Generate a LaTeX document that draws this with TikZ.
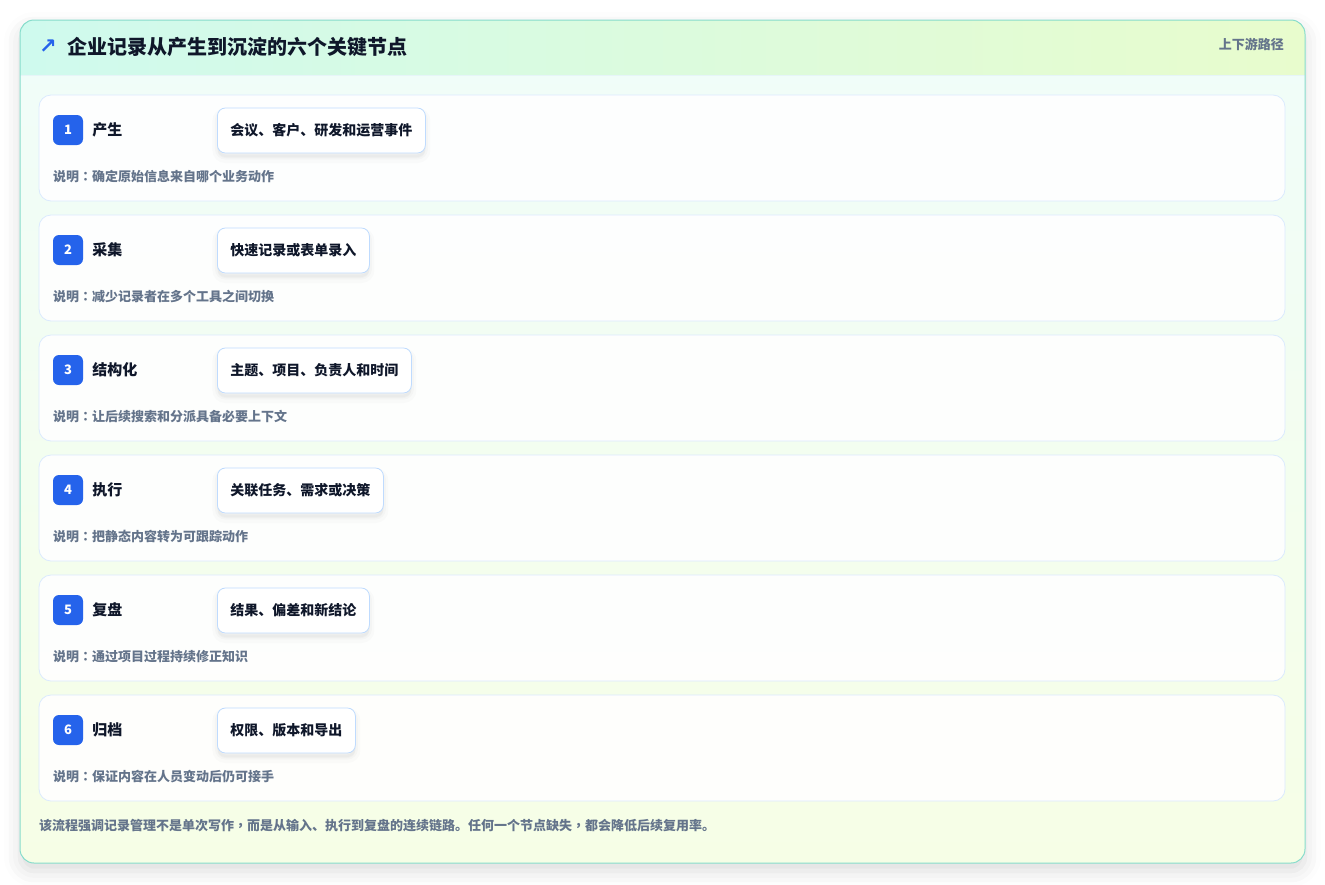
\documentclass[tikz,border=0pt]{standalone}
\usepackage{fontspec}
\setmainfont{Noto Sans CJK SC}
\newfontfamily\tcpunct{Noto Sans CJK TC}
\newfontfamily\symfont{DejaVu Sans}
\usetikzlibrary{positioning,shadows.blur}

\definecolor{inkdark}{HTML}{0F172A}
\definecolor{inkgrey}{HTML}{64748B}
\definecolor{badgeblue}{HTML}{2563EB}
\definecolor{rowline}{HTML}{DBEAFE}
\definecolor{tagline}{HTML}{BFDBFE}
\definecolor{cardline}{HTML}{86DCCB}
\definecolor{headleft}{HTML}{CFFAEE}
\definecolor{headright}{HTML}{E8FCCD}
\definecolor{bodytop}{HTML}{F0FDFA}
\definecolor{bodybottom}{HTML}{F6FEE6}

% 居中的全角标点
\newcommand{\zhcolon}{{\tcpunct ：}}
\newcommand{\zhcomma}{{\tcpunct ，}}

\tikzset{
  rowbox/.style={draw=rowline, line width=0.8pt, fill=white, fill opacity=0.9,
    rounded corners=12pt},
  badge/.style={fill=badgeblue, text=white, rounded corners=6pt, minimum size=30pt,
    inner sep=0pt, font=\fontsize{13}{15}\selectfont\bfseries},
  steplabel/.style={inner sep=0pt, anchor=west, text=inkdark,
    font=\fontsize{15}{18}\selectfont\bfseries},
  softshadow/.style={preaction={fill=black, fill opacity=0.02, draw=black,
      draw opacity=0.015, line width=10pt, transform canvas={yshift=-5pt}},
    preaction={fill=black, fill opacity=0.02, draw=black,
      draw opacity=0.02, line width=5pt, transform canvas={yshift=-4pt}}},
  tagbox/.style={draw=tagline, line width=0.8pt, fill=white, rounded corners=8pt,
    minimum height=45pt, inner xsep=13pt, anchor=west, text=inkdark,
    font=\fontsize{14}{17}\selectfont\bfseries, softshadow},
  note/.style={inner sep=0pt, anchor=west, text=inkgrey,
    font=\fontsize{13}{15}\selectfont\bfseries},
}

\begin{document}
\begin{tikzpicture}[x=1pt, y=-1pt]
  \useasboundingbox (0,0) rectangle (1325,884);
  % 外框及阴影
  \path[blur shadow={shadow xshift=0pt, shadow yshift=-8pt, shadow blur radius=16pt,
      shadow opacity=14}, fill=white, rounded corners=14pt] (20,20) rectangle (1305,863);
  \shade[top color=bodytop, bottom color=bodybottom, rounded corners=14pt]
    (20,20) rectangle (1305,863);
  % 标题栏
  \begin{scope}
    \clip[rounded corners=14pt] (20,20) rectangle (1305,863);
    \shade[left color=headleft, right color=headright] (20,20) rectangle (1305,75);
  \end{scope}
  \draw[draw=rowline!70!cardline!40, line width=0.8pt] (20,75) -- (1305,75);
  \draw[cardline, line width=1pt, rounded corners=14pt] (20,20) rectangle (1305,863);

  \node[inner sep=0pt, anchor=west, text=badgeblue,
    font=\symfont\fontsize{21}{23}\selectfont\bfseries] (arrow) at (39,47) {↗};
  \node[inner sep=0pt, anchor=west, text=inkdark,
    font=\fontsize{20}{24}\selectfont\bfseries] (title) at (67,47) {企业记录从产生到沉淀的六个关键节点};
  \node[note, anchor=east] (scope) at (1284,44) {上下游路径};

  % 六个节点
  \foreach \i/\name/\tag/\desc in {
      1/产生/会议、客户、研发和运营事件/确定原始信息来自哪个业务动作,
      2/采集/快速记录或表单录入/减少记录者在多个工具之间切换,
      3/结构化/主题、项目、负责人和时间/让后续搜索和分派具备必要上下文,
      4/执行/关联任务、需求或决策/把静态内容转为可跟踪动作,
      5/复盘/结果、偏差和新结论/通过项目过程持续修正知识,
      6/归档/权限、版本和导出/保证内容在人员变动后仍可接手} {
    \pgfmathsetmacro{\rowtop}{95+120*(\i-1)}
    \draw[rowbox] (39,\rowtop) rectangle (1285,\rowtop+106);
    \node[badge] (badge\i) at (68,\rowtop+35) {\i};
    \node[steplabel, right=9pt of badge\i] (label\i) {\name};
    \node[tagbox] (tag\i) at (217,\rowtop+35.5) {\tag};
    \node[note] (desc\i) at (53,\rowtop+82) {说明\zhcolon\desc};
  }

  % 底部说明
  \node[note] (footer) at (39,826) {该流程强调记录管理不是单次写作\zhcomma 而是从输入、执行到复盘的连续链路。任何一个节点缺失\zhcomma 都会降低后续复用率。};
\end{tikzpicture}
\end{document}
